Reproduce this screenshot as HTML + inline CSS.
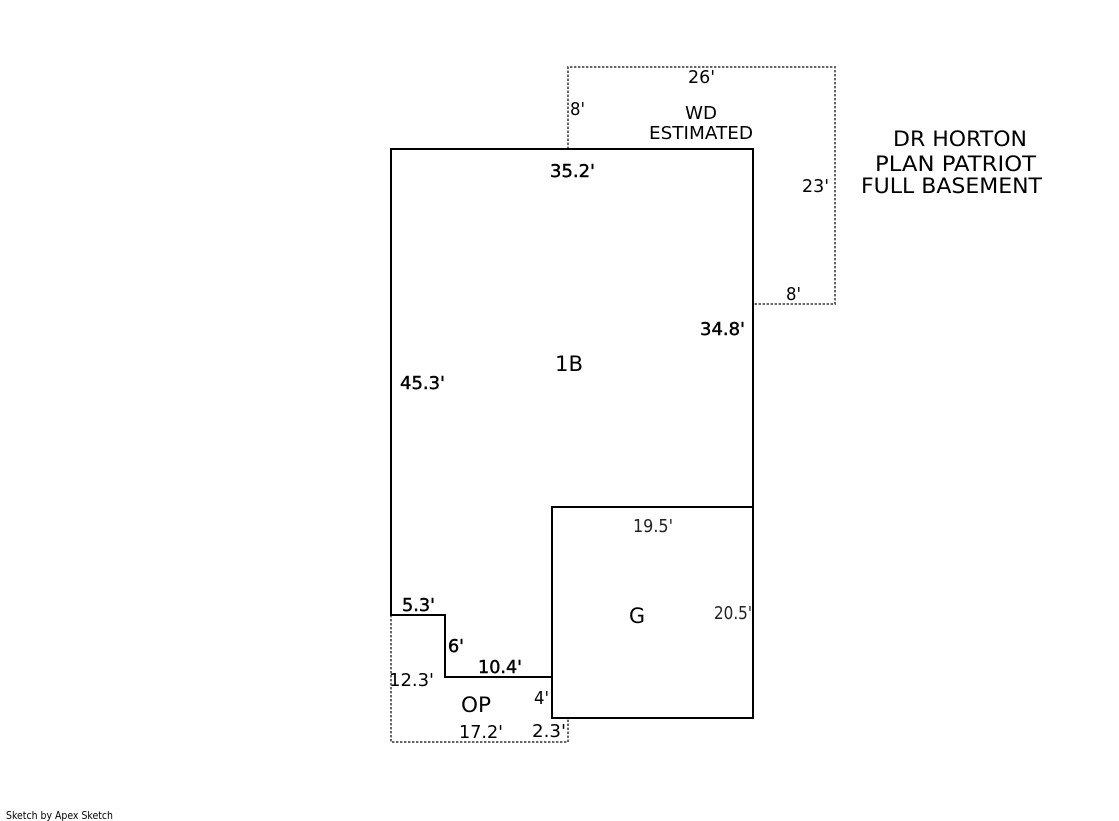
<!DOCTYPE html>
<html>
<head>
<meta charset="utf-8">
<style>
html,body{margin:0;padding:0;background:#fff;width:1119px;height:821px;overflow:hidden}
svg{display:block}
text{font-family:"DejaVu Sans","Liberation Sans",sans-serif;fill:#000}
.b{stroke:#000;stroke-width:.45}
</style>
</head>
<body>
<svg width="1119" height="821" viewBox="0 0 1119 821" xmlns="http://www.w3.org/2000/svg">
<g font-size="18">
<text x="688" y="83" textLength="27" lengthAdjust="spacingAndGlyphs">26'</text>
<text x="570" y="115" textLength="15" lengthAdjust="spacingAndGlyphs">8'</text>
<text x="685" y="119" textLength="32" lengthAdjust="spacingAndGlyphs">WD</text>
<text x="649" y="139" textLength="104" lengthAdjust="spacingAndGlyphs">ESTIMATED</text>
<text x="802" y="192" textLength="27" lengthAdjust="spacingAndGlyphs">23'</text>
<text x="786" y="300" textLength="15" lengthAdjust="spacingAndGlyphs">8'</text>
<text x="389" y="686" textLength="45" lengthAdjust="spacingAndGlyphs">12.3'</text>
<text x="459" y="738" textLength="44" lengthAdjust="spacingAndGlyphs">17.2'</text>
<text x="532" y="737" textLength="34" lengthAdjust="spacingAndGlyphs">2.3'</text>
<text x="534" y="704" textLength="15" lengthAdjust="spacingAndGlyphs">4'</text>
<text class="b" x="550" y="177" textLength="45" lengthAdjust="spacingAndGlyphs">35.2'</text>
<text class="b" x="700" y="335" textLength="45" lengthAdjust="spacingAndGlyphs">34.8'</text>
<text class="b" x="400" y="389" textLength="45" lengthAdjust="spacingAndGlyphs">45.3'</text>
<text class="b" x="402" y="611" textLength="33" lengthAdjust="spacingAndGlyphs">5.3'</text>
<text class="b" x="448" y="652" textLength="16" lengthAdjust="spacingAndGlyphs">6'</text>
<text class="b" x="478" y="673" textLength="44" lengthAdjust="spacingAndGlyphs">10.4'</text>
<text x="633" y="532" textLength="40" lengthAdjust="spacingAndGlyphs" style="fill:#222">19.5'</text>
<text x="714" y="619" textLength="38" lengthAdjust="spacingAndGlyphs" style="fill:#222">20.5'</text>
</g>

<g font-size="21">
<text x="555" y="371" textLength="28" lengthAdjust="spacingAndGlyphs">1B</text>
<text x="629" y="623" textLength="16" lengthAdjust="spacingAndGlyphs">G</text>
<text x="461" y="712" textLength="30" lengthAdjust="spacingAndGlyphs">OP</text>
<text x="893" y="146" textLength="134" lengthAdjust="spacingAndGlyphs">DR HORTON</text>
<text x="875" y="171" textLength="161" lengthAdjust="spacingAndGlyphs">PLAN PATRIOT</text>
<text x="861" y="193" textLength="181" lengthAdjust="spacingAndGlyphs">FULL BASEMENT</text>
</g>

<text x="6" y="819" font-size="11" textLength="107" lengthAdjust="spacingAndGlyphs">Sketch by Apex Sketch</text>

<g fill="none" stroke="#666" stroke-width="2" stroke-dasharray="2.4 1.6">
<path d="M568 149V67H835V304H753"/>
<path d="M391 615V742H568V718"/>
</g>
<g fill="none" stroke="#000" stroke-width="2">
<path d="M391 615V149H753V719"/>
<path d="M752 718H552V507H753"/>
<path d="M390 615H445V677H552"/>
</g>
</svg>
</body>
</html>
